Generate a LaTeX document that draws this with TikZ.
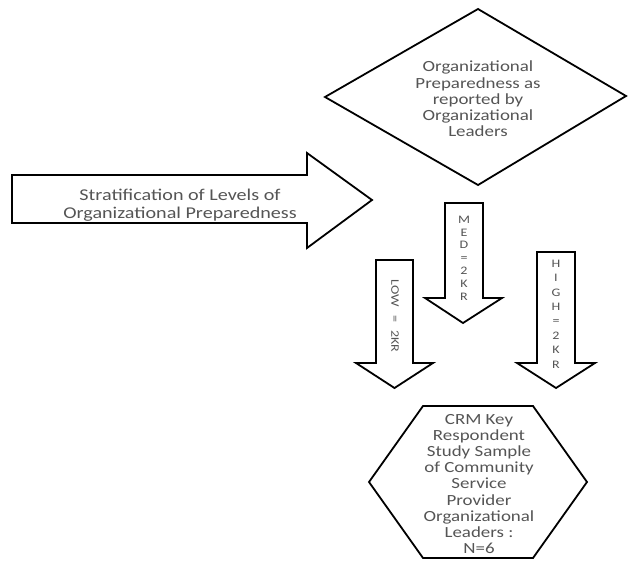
\documentclass[tikz,border=0pt]{standalone}
\usepackage{fontspec}
\setmainfont{Carlito}[FakeStretch=1.22]
\begin{document}
\begin{tikzpicture}[x=1pt,y=-1pt,
  shapeline/.style={draw=black,line width=1.8pt,line join=miter,fill=white},
  bigtext/.style={text=txtgray,align=center,font=\fontsize{15.5}{16.2}\selectfont,inner sep=0pt},
  arrtext/.style={text=txtgray,align=center,font=\fontsize{11.5}{12.8}\selectfont,inner sep=0pt}]
\definecolor{txtgray}{RGB}{85,85,85}
\useasboundingbox (0,0) rectangle (628,562);
% diamond
\draw[shapeline] (478,9) -- (626,96) -- (478,185) -- (325,97) -- cycle;
\node[bigtext] (prep) at (478,99) {Organizational\\Preparedness as\\reported by\\Organizational\\Leaders};
% big right arrow
\draw[shapeline] (12,175) -- (307,175) -- (307,153) -- (372,200) -- (307,248) -- (307,223) -- (12,223) -- cycle;
\node[bigtext,font=\fontsize{16.5}{18.5}\selectfont] (strat) at (180,205) {Stratification of Levels of\\Organizational Preparedness};
% MED arrow
\draw[shapeline] (445,203) -- (483,203) -- (483,298) -- (502,298) -- (463,323) -- (425,298) -- (445,298) -- cycle;
\node[arrtext] (med) at (464,258) {M\\E\\D\\=\\2\\K\\R};
% LOW arrow
\draw[shapeline] (376,260) -- (413,260) -- (413,363) -- (433,363) -- (394.5,388) -- (356,363) -- (376,363) -- cycle;
\node[arrtext,rotate=-90] (low) at (395,316) {LOW\hspace{8pt}=\hspace{8pt}2KR};
% HIGH arrow
\draw[shapeline] (537,252) -- (575,252) -- (575,363) -- (595,363) -- (556,388) -- (517,363) -- (537,363) -- cycle;
\node[arrtext,font=\fontsize{11.5}{14.4}\selectfont] (high) at (556,314) {H\\I\\G\\H\\=\\2\\K\\R};
% hexagon
\draw[shapeline] (369,482) -- (423,406) -- (533,406) -- (587,482) -- (533,558) -- (423,558) -- cycle;
\node[bigtext] (crm) at (479,484) {CRM Key\\Respondent\\Study Sample\\of Community\\Service\\Provider\\Organizational\\Leaders :\\N=6};
\end{tikzpicture}
\end{document}
